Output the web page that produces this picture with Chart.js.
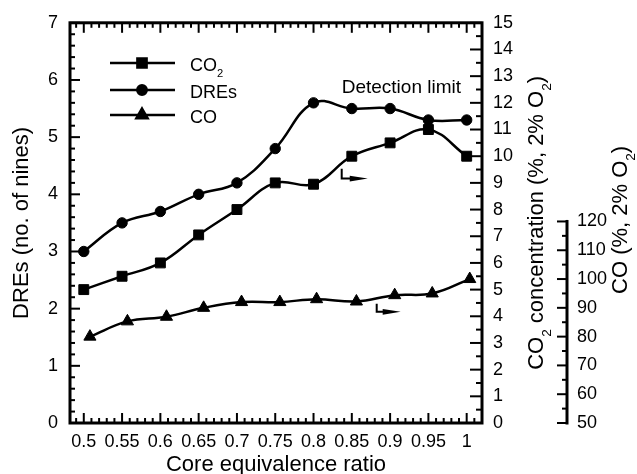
<!DOCTYPE html>
<html><head><meta charset="utf-8">
<script src="https://cdn.jsdelivr.net/npm/chart.js@4/dist/chart.umd.min.js"></script>
<style>html,body{margin:0;padding:0;background:#fff;overflow:hidden}</style>
</head><body>
<canvas id="c" width="637" height="474" style="width:637px;height:474px;display:block"></canvas>
<script>
// ---- data ----
const ratios   = [0.5, 0.55, 0.6, 0.65, 0.7, 0.75, 0.8, 0.85, 0.9, 0.95, 1.0];
const coRatios = [0.508, 0.557, 0.608, 0.6565, 0.706, 0.756, 0.804, 0.856, 0.906, 0.955, 1.004];
const dres     = [3.0, 3.5, 3.7, 4.0, 4.2, 4.8, 5.6, 5.5, 5.5, 5.3, 5.3];
const co2      = [5.0, 5.5, 6.0, 7.05, 8.0, 9.0, 8.95, 10.0, 10.5, 11.0, 10.0];
const co       = [80, 85.3, 86.9, 90, 92, 92, 93, 92.2, 94.4, 95, 100];
const seriesLabels = ['CO2', 'DREs', 'CO'];
const xTicks   = [0.5, 0.55, 0.6, 0.65, 0.7, 0.75, 0.8, 0.85, 0.9, 0.95, 1];
const dreTicks = [0, 1, 2, 3, 4, 5, 6, 7];
const co2Ticks = [0, 1, 2, 3, 4, 5, 6, 7, 8, 9, 10, 11, 12, 13, 14, 15];
const coTicks  = [50, 60, 70, 80, 90, 100, 110, 120];

const FAM = "'Liberation Sans', Arial, sans-serif";
const tickFont = {family: FAM, size: 18};
const BLACK = '#000';
const noGrid = {display: false, drawTicks: false, tickLength: 0};

function pts(xs, ys) { return xs.map((x, i) => ({x: x, y: ys[i]})); }
function fixTicks(arr) { return s => { s.ticks = arr.map(v => ({value: v})); }; }

// rich text with subscripts: parts = [[text, isSub], ...]
function richWidth(ctx, parts, size) {
  let w = 0;
  for (const [t, sub] of parts) { ctx.font = (sub ? size * 0.62 : size) + 'px ' + FAM; w += ctx.measureText(t).width; }
  return w;
}
function drawRich(ctx, parts, x, y, size, subShift) {
  for (const [t, sub] of parts) {
    ctx.font = (sub ? size * 0.62 : size) + 'px ' + FAM;
    ctx.fillText(t, x, sub ? y + size * subShift : y);
    x += ctx.measureText(t).width;
  }
}
function richParts(label) {
  const parts = [];
  const re = /O2/g; let last = 0, m;
  while ((m = re.exec(label))) {
    parts.push([label.slice(last, m.index + 1), false]);
    parts.push(['2', true]);
    last = m.index + 2;
  }
  parts.push([label.slice(last), false]);
  return parts.filter(p => p[0].length);
}

const annotations = {
  detection: {text: 'Detection limit', x: 0.8368, y: 12.55, axis: 'y2'},
  arrows: [
    {x: 0.8368, yTop: 9.53, yBot: 9.16, xTip: 0.8708, axis: 'y2'},
    {x: 0.8825, yTop: 91.4, yBot: 88.6, xTip: 0.9138, axis: 'y3'}
  ]
};

const decor = {
  id: 'decor',
  afterDatasetsDraw(chart) {
    const {ctx, chartArea: a, scales} = chart;
    const line = (x1, y1, x2, y2) => { ctx.beginPath(); ctx.moveTo(x1, y1); ctx.lineTo(x2, y2); ctx.stroke(); };
    ctx.save();
    ctx.strokeStyle = BLACK; ctx.fillStyle = BLACK; ctx.lineCap = 'butt';
    // frame
    ctx.lineWidth = 3;
    ctx.strokeRect(a.left, a.top, a.right - a.left, a.bottom - a.top);
    // x ticks (bottom & top, inward)
    ctx.lineWidth = 2;
    const X = scales.x;
    for (let k = Math.ceil(X.min * 100 - 1e-6); k <= Math.floor(X.max * 100 + 1e-6); k++) {
      const p = X.getPixelForValue(k / 100); const L = k % 5 === 0 ? 10 : 5;
      line(p, a.bottom, p, a.bottom - L); line(p, a.top, p, a.top + L);
    }
    // left ticks
    const Y = scales.y;
    for (let k = 0; k <= 35; k++) {
      const p = Y.getPixelForValue(k / 5); const L = k % 5 === 0 ? 10 : 5;
      line(a.left, p, a.left + L, p);
    }
    // right ticks (CO2)
    const Y2 = scales.y2;
    for (let k = 0; k <= 30; k++) {
      const p = Y2.getPixelForValue(k / 2); const L = k % 2 === 0 ? 12 : 6;
      line(a.right, p, a.right - L, p);
    }
    // CO axis (bracket)
    const Y3 = scales.y3; const xl = Y3.left;
    ctx.lineWidth = 3;
    line(xl, Y3.getPixelForValue(coTicks[0]) + 1.5, xl, Y3.getPixelForValue(coTicks[coTicks.length - 1]) - 1.5);
    ctx.lineWidth = 2;
    for (let v = coTicks[0]; v <= coTicks[coTicks.length - 1]; v += 5) {
      const p = Y3.getPixelForValue(v); const L = v % 10 === 0 ? 10 : 5;
      line(xl, p, xl - L, p);
    }
    // right-side titles (rotated, reading upward)
    const tsize = 22;
    const titles = [
      {text: 'CO2 concentration (%, 2% O2)', bx: Y2.left + 61, cy: (a.top + a.bottom) / 2},
      {text: 'CO (%, 2% O2)', bx: Y3.left + 60, cy: (a.top + a.bottom) / 2 - 3}
    ];
    ctx.textBaseline = 'alphabetic'; ctx.textAlign = 'left';
    for (const t of titles) {
      const parts = richParts(t.text);
      const w = richWidth(ctx, parts, tsize);
      ctx.save(); ctx.translate(t.bx, t.cy); ctx.rotate(-Math.PI / 2);
      drawRich(ctx, parts, -w / 2, 0, tsize, 0.36);
      ctx.restore();
    }
    // legend
    const rows = [
      {ds: chart.data.datasets[0], y: 63},
      {ds: chart.data.datasets[1], y: 90},
      {ds: chart.data.datasets[2], y: 115}
    ];
    for (const r of rows) {
      ctx.lineWidth = 2.5;
      line(110, r.y, 175, r.y);
      Chart.helpers.drawPoint(ctx, {pointStyle: r.ds.pointStyle, radius: r.ds.pointRadius - 0.5, rotation: 0, borderWidth: 1}, 142, r.y);
      ctx.fill();
      ctx.textBaseline = 'alphabetic';
      drawRich(ctx, richParts(r.ds.label), 190, r.y + 8, 18, 0.36);
    }
    // detection limit text
    ctx.font = '19px ' + FAM; ctx.textBaseline = 'middle'; ctx.textAlign = 'left';
    const d = annotations.detection;
    ctx.fillText(d.text, X.getPixelForValue(d.x), scales[d.axis].getPixelForValue(d.y));
    // arrows
    for (const ar of annotations.arrows) {
      const S = scales[ar.axis];
      const x0 = X.getPixelForValue(ar.x), y0 = S.getPixelForValue(ar.yTop), y1 = S.getPixelForValue(ar.yBot);
      const xt = X.getPixelForValue(ar.xTip);
      ctx.lineWidth = 2;
      ctx.beginPath(); ctx.moveTo(x0, y0); ctx.lineTo(x0, y1); ctx.lineTo(xt - 12, y1); ctx.stroke();
      ctx.beginPath(); ctx.moveTo(xt, y1); ctx.lineTo(xt - 18, y1 - 2.8); ctx.lineTo(xt - 18, y1 + 2.8); ctx.closePath(); ctx.fill();
    }
    ctx.restore();
  }
};

const common = {borderColor: BLACK, backgroundColor: BLACK, pointBackgroundColor: BLACK, pointBorderColor: BLACK,
  borderWidth: 2.5, tension: 0.4, fill: false, pointBorderWidth: 1};

new Chart(document.getElementById('c'), {
  type: 'line',
  data: {datasets: [
    Object.assign({label: seriesLabels[0], data: pts(ratios, co2), yAxisID: 'y2', pointStyle: 'rect', pointRadius: 7}, common),
    Object.assign({label: seriesLabels[1], data: pts(ratios, dres), yAxisID: 'y', pointStyle: 'circle', pointRadius: 5.2}, common),
    Object.assign({label: seriesLabels[2], data: pts(coRatios, co), yAxisID: 'y3', pointStyle: 'triangle', pointRadius: 7}, common)
  ]},
  options: {
    responsive: false, animation: false, devicePixelRatio: 1,
    layout: {padding: {top: 20, left: 0, right: 0, bottom: 0}},
    plugins: {legend: {display: false}, tooltip: {enabled: false}},
    scales: {
      x: {type: 'linear', position: 'bottom', min: 0.482, max: 1.02,
        grid: noGrid, border: {display: false},
        afterBuildTicks: fixTicks(xTicks),
        ticks: {font: tickFont, color: BLACK, padding: 8, maxRotation: 0, autoSkip: false, callback: v => String(v)},
        title: {display: true, text: 'Core equivalence ratio', color: BLACK, padding: 0,
          font: {family: FAM, size: 22, lineHeight: 0.82}},
        afterFit: s => { s.height = 51; }},
      y: {type: 'linear', position: 'left', min: 0, max: 7,
        grid: noGrid, border: {display: false},
        afterBuildTicks: fixTicks(dreTicks),
        ticks: {font: tickFont, color: BLACK, padding: 12, autoSkip: false},
        title: {display: true, text: 'DREs (no. of nines)', color: BLACK, padding: {top: 11, bottom: 0},
          font: {family: FAM, size: 22, lineHeight: 1}},
        afterFit: s => { s.width = 70; }},
      y2: {type: 'linear', position: 'right', weight: 1, min: 0, max: 15,
        grid: noGrid, border: {display: false},
        afterBuildTicks: fixTicks(co2Ticks),
        ticks: {font: tickFont, color: BLACK, padding: 11, autoSkip: false},
        afterFit: s => { s.width = 85; }},
      y3: {type: 'linear', position: 'right', weight: 2, min: 50, max: 189,
        grid: noGrid, border: {display: false},
        afterBuildTicks: fixTicks(coTicks),
        ticks: {font: tickFont, color: BLACK, padding: 10, autoSkip: false},
        afterFit: s => { s.width = 70; }}
    }
  },
  plugins: [decor]
});
</script>
</body></html>
